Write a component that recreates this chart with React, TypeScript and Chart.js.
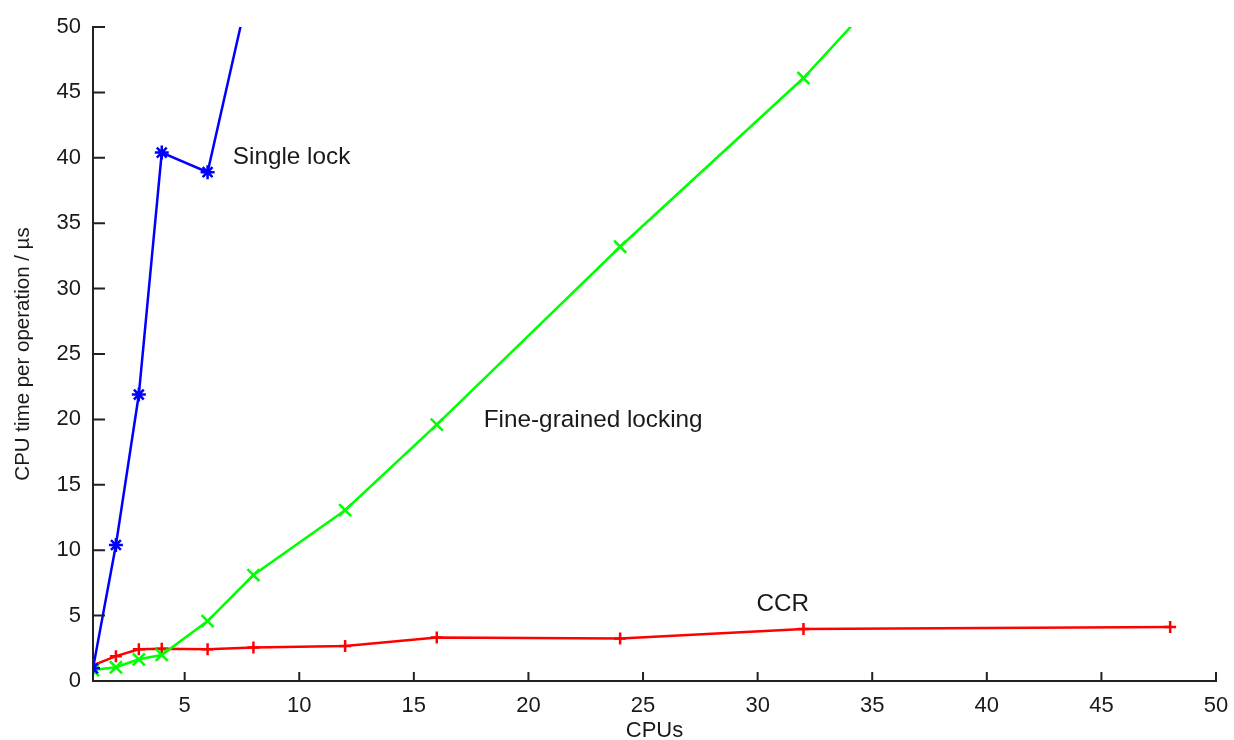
import React, { useEffect, useRef } from "react";
import { Chart, registerables } from "chart.js";

Chart.register(...registerables);

// ---- data ----
const cpus = [1, 2, 3, 4, 6, 8, 12, 16, 24, 32, 48];
const singleLockCpus = [1, 2, 3, 4, 6, 8];
const singleLock = [0.97, 10.4, 21.9, 40.4, 38.9, 54.4];
const fineGrained = [0.84, 1.05, 1.66, 1.99, 4.58, 8.1, 13.06, 19.6, 33.2, 46.1, 76.5];
const ccr = [1.2, 1.9, 2.42, 2.47, 2.42, 2.57, 2.67, 3.32, 3.25, 3.97, 4.12];
const xTicks = [5, 10, 15, 20, 25, 30, 35, 40, 45, 50];
const yTicks = [0, 5, 10, 15, 20, 25, 30, 35, 40, 45, 50];
const labelTexts = ["Single lock", "Fine-grained locking", "CCR"];
const labelX = [7.1, 18.05, 29.95];
const labelY = [40.0, 19.9, 5.9];

const FONT = "'Liberation Sans', Arial, sans-serif";
const TEXT = "#1a1a1a";
const AXIS = "#222222";

const inwardTicks = {
  id: "inwardTicks",
  afterDraw(chart: any) {
    const { ctx, chartArea, scales } = chart;
    const x = scales.x;
    const y = scales.y;
    ctx.save();
    ctx.strokeStyle = AXIS;
    ctx.lineWidth = 2;
    ctx.beginPath();
    xTicks.forEach((v) => {
      const px = x.getPixelForValue(v);
      ctx.moveTo(px, chartArea.bottom);
      ctx.lineTo(px, chartArea.bottom - 9);
    });
    yTicks.forEach((v) => {
      const py = y.getPixelForValue(v);
      ctx.moveTo(chartArea.left, py);
      ctx.lineTo(chartArea.left + 12, py);
    });
    ctx.stroke();
    ctx.font = `24.3px ${FONT}`;
    ctx.fillStyle = TEXT;
    ctx.textAlign = "left";
    ctx.textBaseline = "middle";
    labelTexts.forEach((t, i) => {
      ctx.fillText(t, x.getPixelForValue(labelX[i]), y.getPixelForValue(labelY[i]));
    });
    ctx.restore();
  },
};

export default function App() {
  const ref = useRef<HTMLCanvasElement>(null);
  useEffect(() => {
    if (!ref.current) return;
    const chart = new Chart(ref.current, {
      type: "line",
      data: {
        datasets: [
          {
            label: "Single lock",
            data: singleLockCpus.map((c, i) => ({ x: c, y: singleLock[i] })),
            borderColor: "#0000ff",
            backgroundColor: "#0000ff",
            borderWidth: 2.5,
            pointStyle: "star",
            pointRadius: 7,
            pointBorderWidth: 2.5,
            pointBorderColor: "#0000ff",
          },
          {
            label: "Fine-grained locking",
            data: cpus.map((c, i) => ({ x: c, y: fineGrained[i] })),
            borderColor: "#00ff00",
            backgroundColor: "#00ff00",
            borderWidth: 2.5,
            pointStyle: "crossRot",
            pointRadius: 8.5,
            pointBorderWidth: 2.5,
            pointBorderColor: "#00ff00",
          },
          {
            label: "CCR",
            data: cpus.map((c, i) => ({ x: c, y: ccr[i] })),
            borderColor: "#ff0000",
            backgroundColor: "#ff0000",
            borderWidth: 2.5,
            pointStyle: "cross",
            pointRadius: 6,
            pointBorderWidth: 2.5,
            pointBorderColor: "#ff0000",
          },
        ],
      },
      options: {
        responsive: false,
        animation: false,
        layout: { padding: { top: 27, right: 18, left: 0, bottom: 0 } },
        plugins: { legend: { display: false }, tooltip: { enabled: false } },
        scales: {
          x: {
            type: "linear",
            min: 1,
            max: 50,
            afterBuildTicks: (s: any) => {
              s.ticks = xTicks.map((v) => ({ value: v }));
            },
            afterFit: (s: any) => {
              s.height = 59;
              s.paddingRight = 0;
              s.paddingLeft = 0;
            },
            grid: { display: false, drawTicks: false },
            border: { display: true, color: AXIS, width: 2 },
            ticks: { font: { family: FONT, size: 22 }, color: TEXT, padding: 12, maxRotation: 0 },
            title: {
              display: true,
              text: "CPUs",
              font: { family: FONT, size: 22, lineHeight: 0.8 },
              color: TEXT,
              padding: 0,
            },
          },
          y: {
            type: "linear",
            min: 0,
            max: 50,
            afterBuildTicks: (s: any) => {
              s.ticks = yTicks.map((v) => ({ value: v }));
            },
            afterFit: (s: any) => {
              s.width = 93;
            },
            grid: { display: false, drawTicks: false },
            border: { display: true, color: AXIS, width: 2 },
            ticks: { font: { family: FONT, size: 22 }, color: TEXT, padding: 12 },
            title: {
              display: true,
              text: "CPU time per operation / µs",
              font: { family: FONT, size: 20.5 },
              color: TEXT,
              padding: { top: 11, bottom: 0 },
            },
          },
        },
      },
      plugins: [inwardTicks],
    });
    return () => chart.destroy();
  }, []);
  return (
    <canvas
      ref={ref}
      width={1234}
      height={740}
      style={{ position: "absolute", left: 0, top: 0, width: 1234, height: 740 }}
    />
  );
}
